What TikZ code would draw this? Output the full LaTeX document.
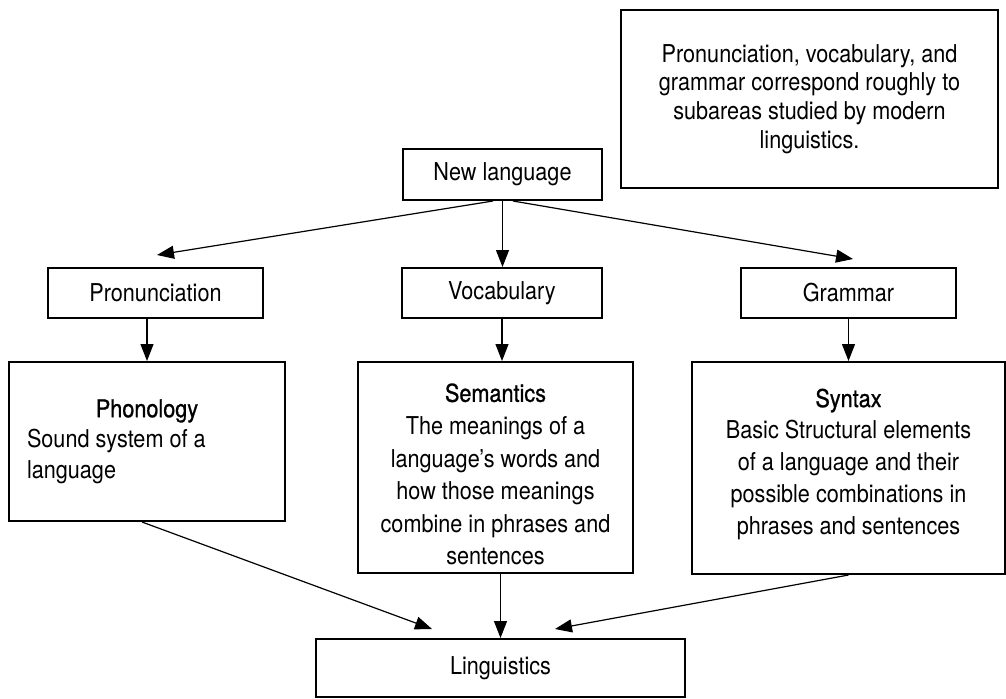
\documentclass[tikz,border=0pt]{standalone}
\usepackage{fontspec}
\setmainfont[FakeStretch=0.88]{TeX Gyre Heros}
\newfontfamily\headfont[FakeStretch=0.88,FakeBold=0.9]{TeX Gyre Heros}
\usetikzlibrary{arrows.meta}

\begin{document}
\begin{tikzpicture}[x=0.5pt,y=-0.5pt,
	box/.style={draw,line width=1pt,inner sep=0pt,align=center,font=\fontsize{12.3}{15.5}\selectfont},
	lines/.style={font=\fontsize{12.3}{#1}\selectfont},
	arr/.style={-{Triangle[length=8.5pt,width=6.5pt]},line width=0.6pt}]
	\useasboundingbox (0,0) rectangle (1006,698);
	% boxes
	\node[box,minimum width=188.5pt,minimum height=89pt,lines=14.3pt] at (809.5,99)	(note)
		{Pronunciation, vocabulary, and\\grammar correspond roughly to\\subareas studied by modern\\linguistics.};
	\node[box,minimum width=99.5pt,minimum height=25.5pt] at (502.5,174.5)	(newlang) {New language};
	\node[box,minimum width=107.5pt,minimum height=25pt] at (155.5,293)	(pron) {Pronunciation};
	\node[box,minimum width=100pt,minimum height=25pt] at (502,293)		(vocab) {Vocabulary};
	\node[box,minimum width=107.5pt,minimum height=25pt] at (848.5,293)	(gram) {Grammar};
	\node[box,align=flush left,inner xsep=9pt,text width=120pt,minimum height=79.5pt,lines=15.3pt] at (147,441.5)	(phon)
		{\hfill{\headfont Phonology}\hfill\null\\Sound system of a\\language};
	\node[box,minimum width=137.5pt,minimum height=105.5pt,lines=16.3pt] at (495.5,467.5)	(sem)
		{\rule{0pt}{16pt}{\headfont Semantics}\\The meanings of a\\language’s words and\\how those meanings\\combine in phrases and\\sentences};
	\node[box,minimum width=156.5pt,minimum height=106pt,lines=15.9pt] at (848.5,468)	(syn)
		{{\headfont Syntax}\\Basic Structural elements\\of a language and their\\possible combinations in\\phrases and sentences\rule[-6.5pt]{0pt}{0pt}};
	\node[box,minimum width=184.5pt,minimum height=29pt] at (500.5,668)	(ling) {Linguistics};
	% arrows
	\draw[arr]	([xshift=-4.75pt]newlang.south) -- ([xshift=0.75pt,yshift=6pt]pron.north);
	\draw[arr]	(newlang.south) -- (newlang.south |- vocab.north);
	\draw[arr]	([xshift=5.25pt]newlang.south) -- ([xshift=2.25pt,yshift=4pt]gram.north);
	\draw[arr]	(phon.north |- pron.south) -- (phon.north);
	\draw[arr]	(vocab.south) -- (vocab.south |- sem.north);
	\draw[arr]	(gram.south) -- (syn.north);
	\draw[arr]	([xshift=-2.5pt]phon.south) -- ([xshift=-34.25pt,yshift=4.5pt]ling.north);
	\draw[arr]	(ling.north |- sem.south) -- (ling.north);
	\draw[arr]	(syn.south) -- ([xshift=27.25pt,yshift=4.5pt]ling.north);
\end{tikzpicture}
\end{document}
